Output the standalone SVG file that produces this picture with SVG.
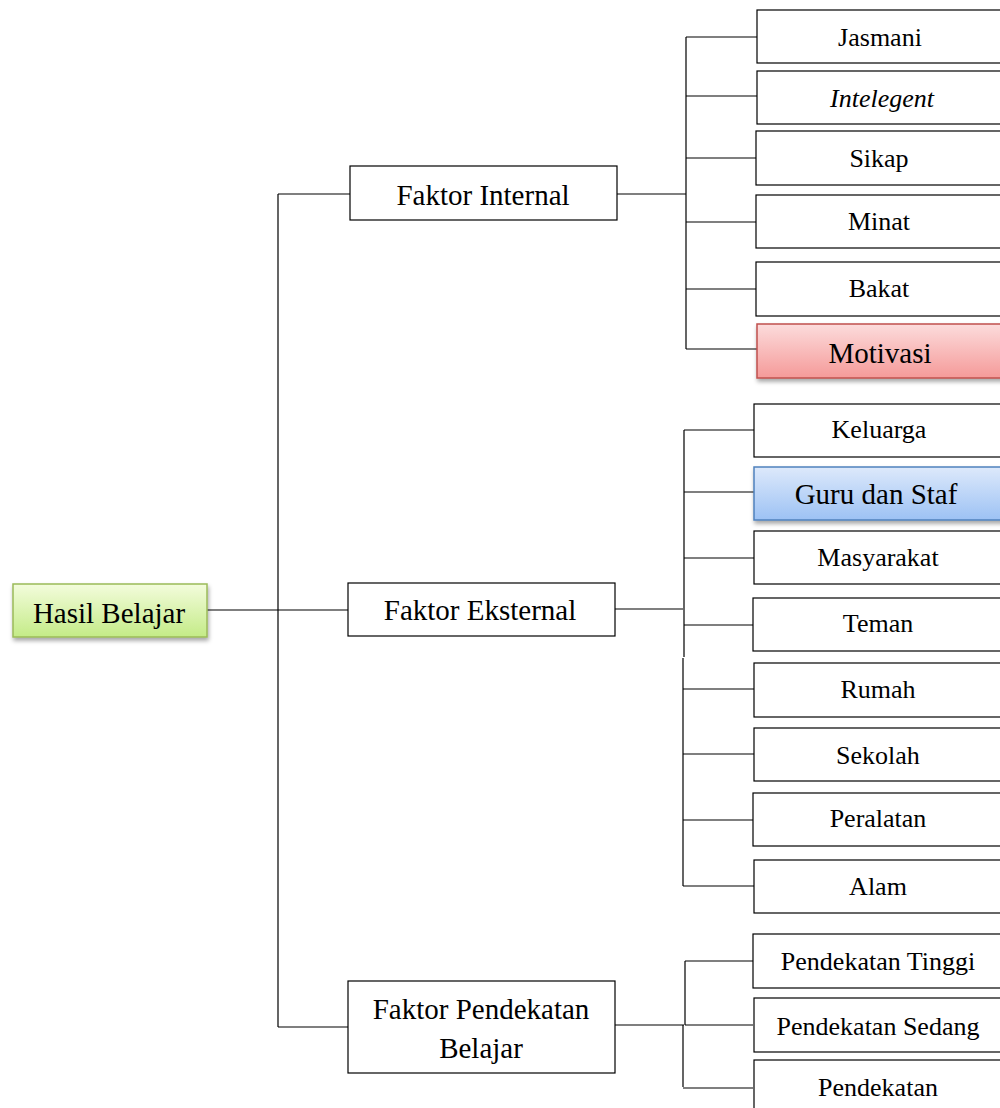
<svg xmlns="http://www.w3.org/2000/svg" width="1000" height="1108" viewBox="0 0 1000 1108">
<defs>
<linearGradient id="gGreen" x1="0" y1="0" x2="0" y2="1"><stop offset="0" stop-color="#f3fcdc"/><stop offset="1" stop-color="#c4eb87"/></linearGradient>
<linearGradient id="gRed" x1="0" y1="0" x2="0" y2="1"><stop offset="0" stop-color="#fcdcdc"/><stop offset="1" stop-color="#f59a99"/></linearGradient>
<linearGradient id="gBlue" x1="0" y1="0" x2="0" y2="1"><stop offset="0" stop-color="#dde9fb"/><stop offset="1" stop-color="#9dc2f4"/></linearGradient>
<filter id="sh" x="-10%" y="-10%" width="130%" height="150%"><feDropShadow dx="1" dy="3" stdDeviation="2" flood-color="#000" flood-opacity="0.35"/></filter>
</defs>
<style>
.box{fill:#fff;stroke:#000;stroke-width:1.2}
text{font-family:'Liberation Serif','Times New Roman','DejaVu Serif',serif;fill:#000;text-anchor:middle}
.s{font-size:26px}
.m{font-size:29px}
.c{fill:none;stroke:#000;stroke-width:1.2}
</style>
<rect width="1000" height="1108" fill="#fff"/>
<g id="connectors">
<path class="c" d="M207 610H348M278 194V1027M278 194H350M278 1027H348"/>
<path class="c" d="M617 194H686M686 37V349M686 37H757M686 96H757M686 158H757M686 222H757M686 289H757M686 349H757"/>
<path class="c" d="M615 609H683M684 430V657M683 658V886M684 430H754M684 492H754M684 558H754M684 625H754M683 689H754M683 754H754M683 820H754M683 886H754"/>
<path class="c" d="M615 1025H684M685 961V1025M683 1025V1087M685 961H753M685 1025H753M683 1088H753"/>
</g>
<g id="hasil"><rect x="13" y="584" width="194" height="53" fill="url(#gGreen)" stroke="#9bbb59" stroke-width="1.5" filter="url(#sh)"/><text class="m" x="109" y="623">Hasil Belajar</text></g>
<g id="internal"><rect class="box" x="350" y="166" width="267" height="54"/><text class="m" x="483" y="205">Faktor Internal</text></g>
<g id="eksternal"><rect class="box" x="348" y="583" width="267" height="53"/><text class="m" x="480" y="620">Faktor Eksternal</text></g>
<g id="pendekatan"><rect class="box" x="348" y="981" width="267" height="92"/><text class="m" x="481" y="1019">Faktor Pendekatan</text><text class="m" x="481" y="1058">Belajar</text></g>
<g id="jasmani"><rect class="box" x="757" y="10" width="250" height="53"/><text class="s" x="880" y="46">Jasmani</text></g>
<g id="intelegent"><rect class="box" x="757" y="71" width="250" height="53"/><text class="s" x="882" y="107" font-style="italic">Intelegent</text></g>
<g id="sikap"><rect class="box" x="756" y="131" width="250" height="54"/><text class="s" x="879" y="167">Sikap</text></g>
<g id="minat"><rect class="box" x="756" y="195" width="250" height="53"/><text class="s" x="879" y="230">Minat</text></g>
<g id="bakat"><rect class="box" x="756" y="262" width="250" height="54"/><text class="s" x="879" y="297">Bakat</text></g>
<g id="motivasi"><rect x="757" y="324" width="250" height="54" fill="url(#gRed)" stroke="#c0504d" stroke-width="1.5" filter="url(#sh)"/><text class="m" x="880" y="363">Motivasi</text></g>
<g id="keluarga"><rect class="box" x="754" y="404" width="250" height="53"/><text class="s" x="879" y="438">Keluarga</text></g>
<g id="guru"><rect x="754" y="467" width="250" height="53" fill="url(#gBlue)" stroke="#4f81bd" stroke-width="1.5" filter="url(#sh)"/><text class="m" x="876" y="504">Guru dan Staf</text></g>
<g id="masyarakat"><rect class="box" x="754" y="531" width="250" height="53"/><text class="s" x="878" y="566">Masyarakat</text></g>
<g id="teman"><rect class="box" x="753" y="598" width="250" height="53"/><text class="s" x="878" y="632">Teman</text></g>
<g id="rumah"><rect class="box" x="754" y="663" width="250" height="54"/><text class="s" x="878" y="698">Rumah</text></g>
<g id="sekolah"><rect class="box" x="754" y="728" width="250" height="53"/><text class="s" x="878" y="764">Sekolah</text></g>
<g id="peralatan"><rect class="box" x="753" y="793" width="250" height="53"/><text class="s" x="878" y="827">Peralatan</text></g>
<g id="alam"><rect class="box" x="754" y="860" width="250" height="53"/><text class="s" x="878" y="895">Alam</text></g>
<g id="tinggi"><rect class="box" x="753" y="934" width="250" height="54"/><text class="s" x="878" y="970">Pendekatan Tinggi</text></g>
<g id="sedang"><rect class="box" x="754" y="998" width="250" height="54"/><text class="s" x="878" y="1035">Pendekatan Sedang</text></g>
<g id="rendah"><rect class="box" x="754" y="1060" width="250" height="60"/><text class="s" x="878" y="1096">Pendekatan</text></g>
</svg>
